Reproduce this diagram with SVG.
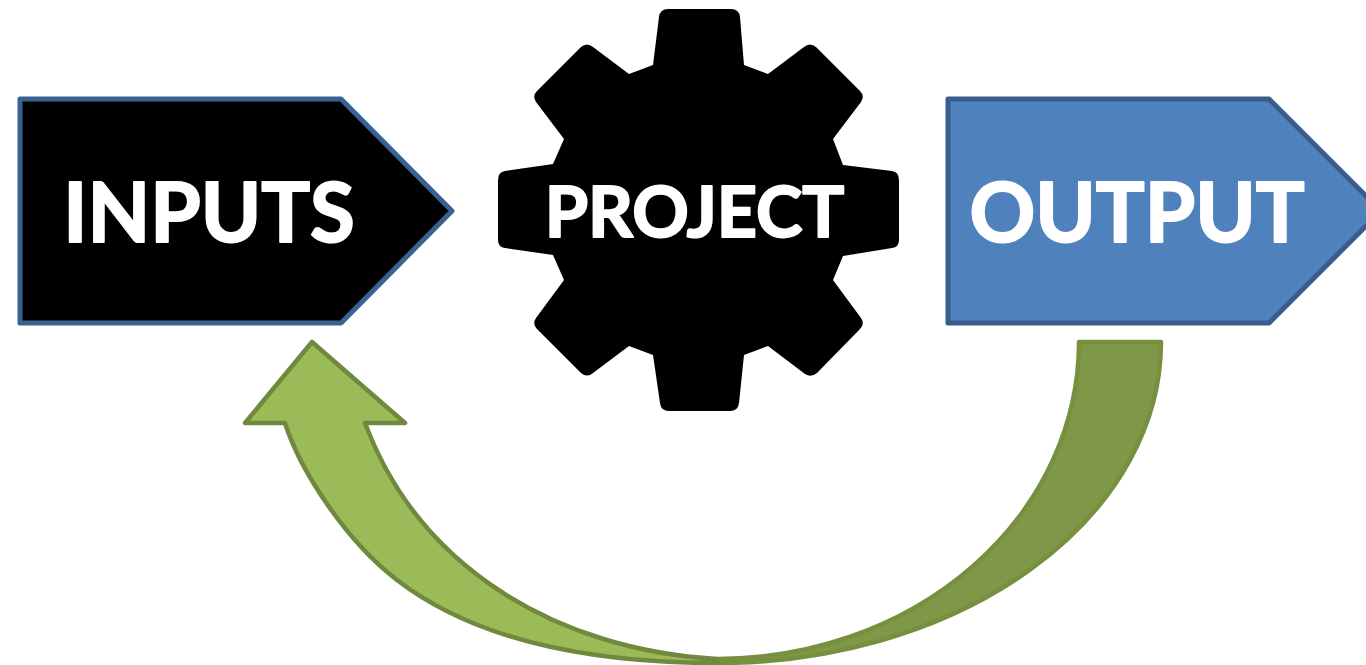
<svg xmlns="http://www.w3.org/2000/svg" width="1366" height="665" viewBox="0 0 1366 665">
<style>
.lbl{font-family:"Lato","Liberation Sans",sans-serif;font-weight:700;fill:#fff;stroke:#fff;stroke-width:2;stroke-linejoin:round;text-anchor:middle}
.box{stroke-width:5;stroke-linejoin:round}
.arrow{stroke-width:4.500;stroke-linejoin:round}
</style>
<rect width="1366" height="665" fill="#fff"/>
<g id="connectors">
<path class="arrow" fill="#7F9747" stroke="#76903F" d="M1079 342H1161A444 321 0 0 1 717 663V659A362 317 0 0 0 1079 342Z"/>
<path class="arrow" fill="#9BBB59" stroke="#71893F" d="M312 342L405 423H365C420 570 560 650 717 659V663C590 663 475 640 397 580C345 540 300 470 285 423H245Z"/>
</g>
<g id="inputs">
<path class="box" fill="#000" stroke="#3A6291" d="M20 99H341L452 211L341 323H20Z"/>
<text class="lbl" x="209" y="242" font-size="81.500">INPUTS</text>
</g>
<g id="project">
<path fill="#000" d="M653 65L659 17Q660 9 668 9H731Q739 9 740 17L744 65L768 74L804 47Q810 42 816 47L860 91Q865 96 861 102L833 139L843 165L892 171Q899 172 899 180V240Q899 247 892 248L843 256L833 280L861 318Q865 324 860 329L817 373Q811 378 805 374L768 346L744 355L739 403Q738 411 730 411H669Q661 411 660 403L653 355L629 346L593 373Q587 378 581 373L537 329Q532 324 536 318L564 280L553 255L505 248Q498 247 498 240V180Q498 172 505 171L553 164L564 139L536 102Q532 96 537 91L581 47Q587 42 593 47L629 74Z"/>
<text class="lbl" x="694.500" y="237" font-size="70">PROJECT</text>
</g>
<g id="output">
<path class="box" fill="#4F81BD" stroke="#385D8A" d="M948 99H1269L1381 211L1269 323H948Z"/>
<text class="lbl" x="1137" y="242" font-size="81.500">OUTPUT</text>
</g>
</svg>
